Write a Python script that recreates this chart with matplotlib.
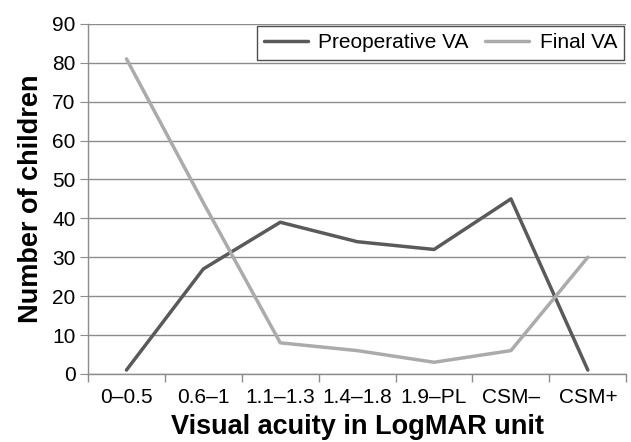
import numpy as np
import matplotlib.pyplot as plt
from matplotlib.ticker import FixedLocator

categories = ['0\u20130.5', '0.6\u20131', '1.1\u20131.3', '1.4\u20131.8', '1.9\u2013PL', 'CSM\u2013', 'CSM+']
preop_va = [1, 27, 39, 34, 32, 45, 1]
final_va = [81, 44, 8, 6, 3, 6, 30]

plt.rcParams['font.family'] = ['Liberation Sans', 'DejaVu Sans']

fig = plt.figure(figsize=(6.31, 4.42), dpi=100)
ax = fig.add_axes([0.1395, 0.154, 0.853, 0.792])

x = np.arange(len(categories))
ax.plot(x, preop_va, color='#5a5a5a', lw=2.5, label='Preoperative VA', solid_capstyle='round')
ax.plot(x, final_va, color='#ababab', lw=2.5, label='Final VA', solid_capstyle='round')

ax.set_xlim(-0.5, len(categories) - 0.5)
ax.set_ylim(0, 90)
ax.set_yticks(range(0, 91, 10))
ax.set_xticks(x)
ax.set_xticklabels(categories)
ax.xaxis.set_minor_locator(FixedLocator(np.arange(-0.5, len(categories), 1)))
ax.tick_params(axis='x', which='major', length=0, labelsize=15, pad=10)
ax.tick_params(axis='x', which='minor', length=6, color='#8c8c8c', width=1)
ax.tick_params(axis='y', length=6, color='#8c8c8c', labelsize=15, pad=3)

ax.grid(axis='y', color='#8c8c8c', lw=1)
ax.set_axisbelow(True)
for s in ['top', 'right']:
    ax.spines[s].set_visible(False)
for s in ['left', 'bottom']:
    ax.spines[s].set_color('#8c8c8c')
    ax.spines[s].set_linewidth(1)

ax.set_xlabel('Visual acuity in LogMAR unit', fontsize=19.5, fontweight='bold', labelpad=5)
ax.set_ylabel('Number of children', fontsize=19.5, fontweight='bold', labelpad=6)

leg = ax.legend(loc='upper right', ncol=2, fontsize=15, frameon=True, fancybox=False,
                borderaxespad=0.1, handlelength=2.1, handletextpad=0.5, columnspacing=0.8,
                borderpad=0.35)
leg.get_frame().set_edgecolor('#222222')
leg.get_frame().set_linewidth(1)

fig.savefig('out.png', dpi=100)
